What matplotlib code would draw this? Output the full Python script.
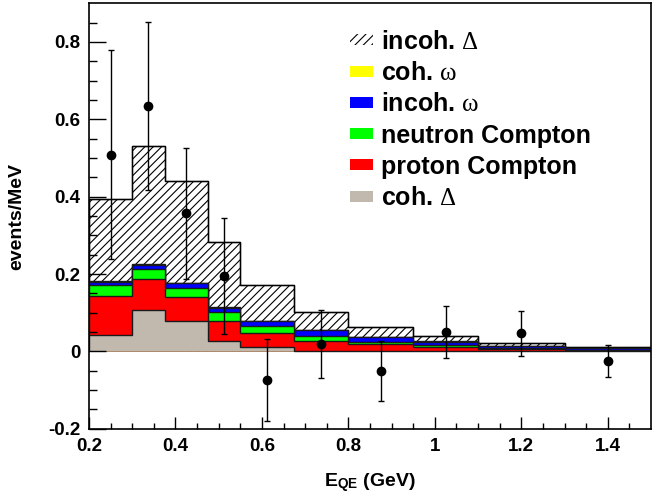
import numpy as np
import matplotlib
matplotlib.use("Agg")
import matplotlib.pyplot as plt
from matplotlib.patches import Patch

plt.rcParams["font.family"] = ["Liberation Sans", "DejaVu Sans"]
plt.rcParams["font.weight"] = "bold"
plt.rcParams["mathtext.fontset"] = "custom"
plt.rcParams["mathtext.rm"] = "Liberation Serif:weight=normal"
plt.rcParams["mathtext.it"] = "Liberation Serif:style=italic:weight=normal"
plt.rcParams["mathtext.bf"] = "Liberation Sans:weight=bold"
plt.rcParams["hatch.linewidth"] = 0.8

# bin edges in E_QE (GeV)
edges = [0.2, 0.3, 0.375, 0.475, 0.55, 0.675, 0.8, 0.95, 1.1, 1.3, 1.5]

# MC components, events/MeV, stacked bottom -> top
coh_delta = [0.043, 0.108, 0.078, 0.028, 0.010, 0.002, 0.001, 0.001, 0.001, 0.001]
proton_compton = [0.101, 0.078, 0.063, 0.050, 0.038, 0.025, 0.017, 0.011, 0.006, 0.002]
neutron_compton = [0.027, 0.028, 0.024, 0.023, 0.017, 0.014, 0.006, 0.004, 0.002, 0.001]
incoh_omega = [0.009, 0.010, 0.011, 0.012, 0.013, 0.014, 0.012, 0.009, 0.005, 0.004]
coh_omega = [0.001, 0.001, 0.002, 0.001, 0.001, 0.001, 0.0005, 0.0005, 0.0003, 0.0002]
incoh_delta = [0.213, 0.307, 0.263, 0.170, 0.093, 0.045, 0.0255, 0.0135, 0.0067, 0.0038]

# data points
data_x = [0.25, 0.3375, 0.425, 0.5125, 0.6125, 0.7375, 0.875, 1.025, 1.2, 1.4]
data_y = [0.509, 0.634, 0.357, 0.196, -0.074, 0.018, -0.050, 0.050, 0.047, -0.025]
data_err = [0.27, 0.218, 0.17, 0.15, 0.105, 0.088, 0.078, 0.067, 0.058, 0.042]

xticks = [0.2, 0.4, 0.6, 0.8, 1.0, 1.2, 1.4]
xtick_labels = ["0.2", "0.4", "0.6", "0.8", "1", "1.2", "1.4"]
yticks = [-0.2, 0, 0.2, 0.4, 0.6, 0.8]
ytick_labels = ["-0.2", "0", "0.2", "0.4", "0.6", "0.8"]

fig = plt.figure(figsize=(6.52, 4.97), dpi=100, facecolor="white")
ax = fig.add_axes([0.1365, 0.1374, 0.862, 0.856])

comps = [coh_delta, proton_compton, neutron_compton, incoh_omega, coh_omega, incoh_delta]
colors = ["#c1b8ae", "#ff0000", "#00ff00", "#0000ff", "#ffff00", "white"]
cum = np.cumsum(np.array(comps), axis=0)

# draw largest first, each from zero (ROOT THStack look)
for i in range(len(comps) - 1, -1, -1):
    if i == len(comps) - 1:
        ax.stairs(cum[i], edges, baseline=0, fill=True, facecolor="white",
                  edgecolor="black", hatch="////", linewidth=0.9)
        ax.stairs(cum[i], edges, baseline=0, fill=False, color="black", linewidth=1.0)
    else:
        ax.stairs(cum[i], edges, baseline=0, fill=True, facecolor=colors[i],
                  edgecolor="#1a1a1a", linewidth=1.0)

ax.errorbar(data_x, data_y, yerr=data_err, fmt="o", color="black", ms=6,
            elinewidth=1.0, capsize=2, capthick=1.0, zorder=5)

ax.set_xlim(0.2, 1.5)
ax.set_ylim(-0.2, 0.9)
ax.set_xticks(xticks)
ax.set_xticklabels(xtick_labels)
ax.set_yticks(yticks)
ax.set_yticklabels(ytick_labels)
ax.set_xticks(np.arange(0.25, 1.5, 0.05), minor=True)
ax.set_yticks(np.arange(-0.15, 0.9, 0.05), minor=True)
ax.tick_params(axis="both", which="both", direction="in", labelsize=13.5, width=1.0)
ax.tick_params(axis="x", which="major", length=9, pad=7)
ax.tick_params(axis="x", which="minor", length=4.5)
ax.tick_params(axis="y", which="major", length=12, pad=6)
ax.tick_params(axis="y", which="minor", length=6)
for s in ax.spines.values():
    s.set_linewidth(1.2)

ax.set_xlabel(r"E$_{\mathbf{QE}}$ (GeV)", fontsize=14, fontweight="bold")
ax.xaxis.set_label_coords(0.5, -0.1)
ax.set_ylabel("events/MeV", fontsize=14, fontweight="bold")
ax.yaxis.set_label_coords(-0.113, 0.498)

handles = [
    Patch(facecolor="white", edgecolor="black", hatch="////", linewidth=0),
    Patch(facecolor=colors[4], edgecolor="none"),
    Patch(facecolor=colors[3], edgecolor="none"),
    Patch(facecolor=colors[2], edgecolor="none"),
    Patch(facecolor=colors[1], edgecolor="none"),
    Patch(facecolor=colors[0], edgecolor="none"),
]
labels = [r"incoh. $\mathrm{\Delta}$", r"coh. $\mathrm{\omega}$", r"incoh. $\mathrm{\omega}$",
          "neutron Compton", "proton Compton", r"coh. $\mathrm{\Delta}$"]
fig.legend(handles, labels, loc="upper left", bbox_to_anchor=(0.537, 0.94),
           frameon=False, fontsize=18, borderpad=0, borderaxespad=0,
           labelspacing=0.29, handlelength=0.9, handleheight=0.3, handletextpad=0.33)

fig.savefig("out.png", dpi=100, facecolor="white")
